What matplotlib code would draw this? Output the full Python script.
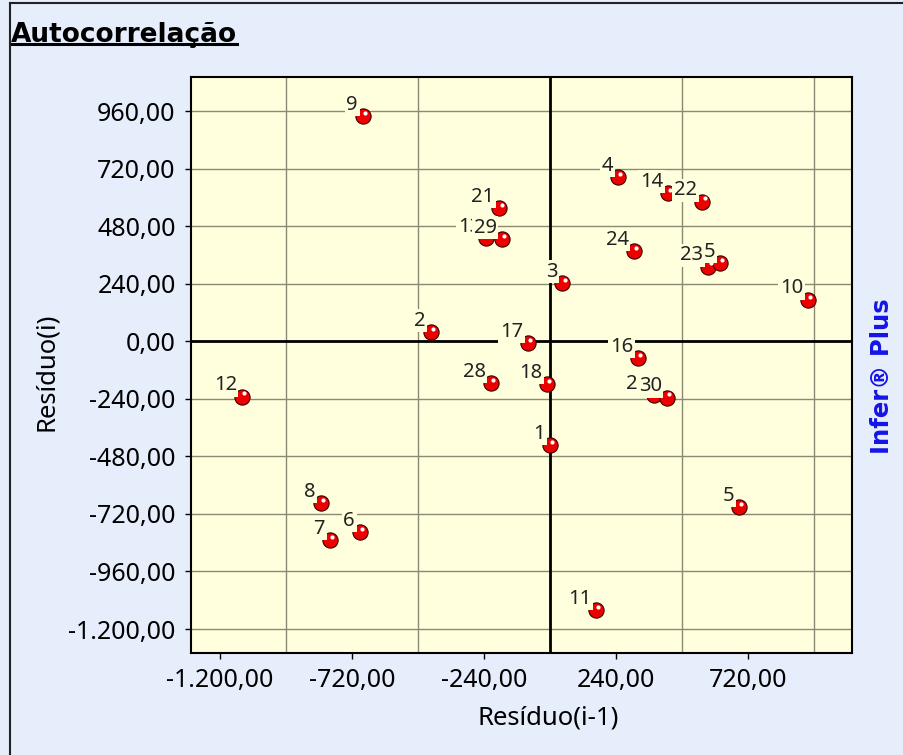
import matplotlib.pyplot as plt
from matplotlib.ticker import MultipleLocator, FixedLocator, FuncFormatter
from matplotlib.transforms import offset_copy
from matplotlib.lines import Line2D

plt.rcParams['font.family'] = ['Noto Sans', 'DejaVu Sans']

# residual pairs (x = residuo(i-1), y = residuo(i))
labels = ['9', '21', '13', '29', '3', '4', '14', '22', '24', '23', '5', '10', '2',
          '12', '17', '28', '18', '1', '16', '27', '30', '5', '8', '7', '6', '11']
res_prev = [-680, -185, -233, -175, 44, 247, 429, 553, 305, 575, 618, 938, -433,
            -1120, -80, -215, -11, 0, 320, 378, 425, 687, -833, -800, -691, 167]
res_curr = [939, 555, 430, 425, 242, 684, 618, 581, 376, 310, 326, 172, 38,
            -232, -8, -175, -179, -433, -70, -225, -236, -692, -676, -830, -797, -1121]

x_ticks = [-1200, -720, -240, 240, 720]

bg_fig = '#E6EDFB'
bg_ax = '#FFFFDD'


def br_fmt(v, pos):
    s = '{:,.2f}'.format(v + 0.0)
    return s.replace(',', 'X').replace('.', ',').replace('X', '.')


fig = plt.figure(figsize=(9.04, 7.55), dpi=100)
fig.patch.set_facecolor(bg_fig)
ax = fig.add_axes([191/904, 1 - 653/755, (852-191)/904, (653-77)/755])
ax.set_facecolor(bg_ax)
ax.set_xlim(-1305, 1098)
ax.set_ylim(-1300, 1102)

ax.xaxis.set_major_locator(FixedLocator(x_ticks))
ax.xaxis.set_minor_locator(MultipleLocator(240))
ax.yaxis.set_major_locator(MultipleLocator(240))
ax.xaxis.set_major_formatter(FuncFormatter(br_fmt))
ax.yaxis.set_major_formatter(FuncFormatter(br_fmt))
ax.tick_params(which='major', length=4, width=1, direction='out', labelsize=18, pad=7)
ax.tick_params(which='minor', length=0)
ax.grid(True, axis='x', which='minor', color='#8A8A72', lw=1)
ax.grid(True, axis='y', which='major', color='#8A8A72', lw=1)
ax.set_axisbelow(True)
for sp in ax.spines.values():
    sp.set_linewidth(1.5)

ax.axhline(0, color='black', lw=2, zorder=1.5)
ax.axvline(0, color='black', lw=2, zorder=1.5)

ax.scatter(res_prev, res_curr, s=120, c='#EE0000', edgecolors='#3A0000',
           linewidths=0.8, zorder=3)
hl = offset_copy(ax.transData, fig=fig, x=2.5, y=3.5, units='dots')
ax.scatter(res_prev, res_curr, s=9, c='white', linewidths=0, transform=hl, zorder=4)

for lab, xv, yv in zip(labels, res_prev, res_curr):
    ax.annotate(lab, (xv, yv), xytext=(-3.6, 4.7), textcoords='offset points',
                ha='right', va='baseline', fontsize=14.5, color='#222222',
                bbox=dict(boxstyle='square,pad=0.08', fc=bg_ax, ec='none'),
                zorder=5)

fig.text(548/904, 1 - 718/755, 'Resíduo(i-1)', ha='center', va='center', fontsize=18.5)
fig.text(47/904, 1 - 372/755, 'Resíduo(i)', ha='center', va='center',
         rotation=90, fontsize=18.5)
fig.text(882/904, 1 - 376/755, 'Infer® Plus', ha='center', va='center',
         rotation=90, fontsize=17.5, fontweight='bold', color='#1414E6',
         family='DejaVu Sans')

title = fig.text(11/904, 1 - 35/755, 'Autocorrelação', ha='left', va='center',
                 fontsize=19, fontweight='bold', color='black', family='DejaVu Sans')
fig.canvas.draw()
bb = title.get_window_extent().transformed(fig.transFigure.inverted())
fig.add_artist(Line2D([bb.x0, bb.x1], [bb.y0 + 0.005, bb.y0 + 0.005],
                      transform=fig.transFigure, color='black', lw=2.2))

# sunken panel frame
fig.add_artist(Line2D([10/904, 10/904], [0, 1 - 3/755], transform=fig.transFigure,
                      color='#222222', lw=1.5))
fig.add_artist(Line2D([10/904, 1], [1 - 3/755, 1 - 3/755], transform=fig.transFigure,
                      color='#222222', lw=1.5))

fig.savefig('out.png', dpi=100, facecolor=fig.get_facecolor())
